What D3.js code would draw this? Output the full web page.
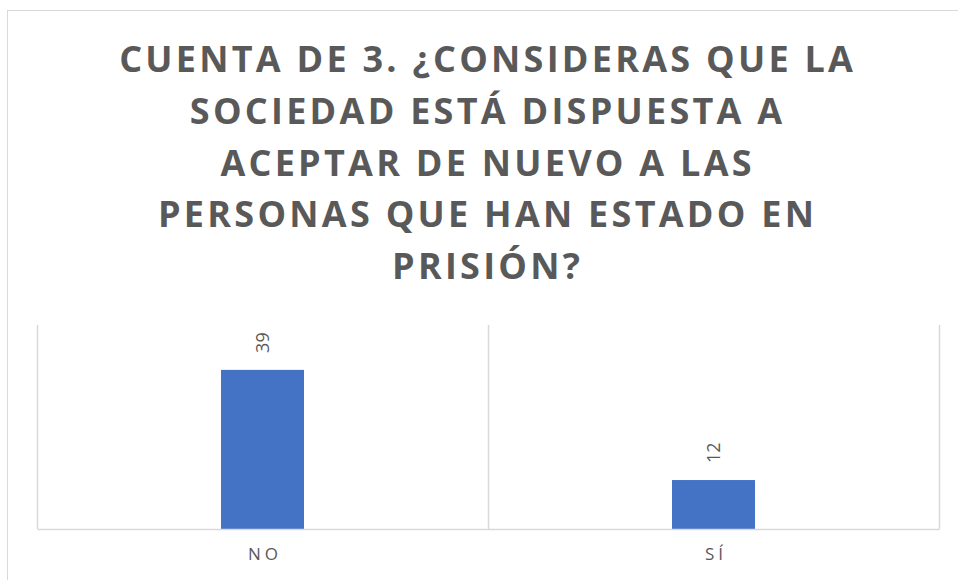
<!DOCTYPE html>
<html>
<head>
<meta charset="utf-8">
<script src="https://cdn.jsdelivr.net/npm/d3@7"></script>
<style>
  body { margin: 0; background: #fff; }
  #chart { width: 958px; height: 580px; }
</style>
</head>
<body>
<div id="chart"></div>
<script>
// Chart data
const categories = ["NO", "SÍ"];
const counts = [39, 12];
const titleLines = [
  "CUENTA DE 3. ¿CONSIDERAS QUE LA",
  "SOCIEDAD ESTÁ DISPUESTA A",
  "ACEPTAR DE NUEVO A LAS",
  "PERSONAS QUE HAN ESTADO EN",
  "PRISIÓN?"
];
const yDomain = [0, 50];

const W = 958, H = 580;
const svg = d3.select("#chart").append("svg")
  .attr("width", W)
  .attr("height", H);

// outer chart border (the right edge is cropped in the reference)
svg.append("rect")
  .attr("x", 7.5).attr("y", 10.5)
  .attr("width", 965).attr("height", 600)
  .attr("fill", "#fff")
  .attr("stroke", "#d9d9d9");

// Title
const titleX = 486;
const title = svg.append("g")
  .attr("font-family", "'Open Sans', sans-serif")
  .attr("font-weight", "bold")
  .attr("font-size", 36)
  .attr("fill", "#595959")
  .attr("text-anchor", "middle");

// measure the first line to pick letter spacing
const probe = title.append("text").text(titleLines[0]);
const raw = probe.node().getComputedTextLength();
probe.remove();
const spacing = (737 - raw) / titleLines[0].length;

title.selectAll("text")
  .data(titleLines)
  .enter()
  .append("text")
  .attr("x", titleX + spacing / 2)
  .attr("y", (d, i) => 72 + i * 51.8)
  .style("letter-spacing", spacing + "px")
  .text(d => d);

// Plot area
const plot = { left: 37, right: 939, top: 325, bottom: 529 };

const x = d3.scaleBand()
  .domain(categories)
  .range([plot.left, plot.right])
  .padding(0);

const y = d3.scaleLinear()
  .domain(yDomain)
  .range([plot.bottom, plot.top]);

const barW = x.bandwidth() * 0.184;

// category separator gridlines
const seps = [plot.left, ...categories.map(c => x(c) + x.bandwidth())];
svg.append("g")
  .selectAll("line")
  .data(seps)
  .enter()
  .append("line")
  .attr("x1", d => Math.round(d) + 0.5)
  .attr("x2", d => Math.round(d) + 0.5)
  .attr("y1", plot.top)
  .attr("y2", plot.bottom)
  .attr("stroke", "#d9d9d9")
  .attr("stroke-width", 1.5);

// bars
svg.append("g")
  .selectAll("rect")
  .data(categories)
  .enter()
  .append("rect")
  .attr("x", (d) => x(d) + (x.bandwidth() - barW) / 2)
  .attr("y", (d, i) => y(counts[i]))
  .attr("width", barW)
  .attr("height", (d, i) => y(0) - y(counts[i]))
  .attr("fill", "#4472c4");

// baseline / x axis
const xAxis = svg.append("g")
  .attr("transform", `translate(0,${plot.bottom})`)
  .call(d3.axisBottom(x).tickSize(0).tickPadding(19));
xAxis.select(".domain")
  .attr("stroke", "#d9d9d9")
  .attr("stroke-width", 1.5);
xAxis.selectAll("text")
  .attr("font-family", "'Open Sans', sans-serif")
  .attr("font-size", 17)
  .attr("fill", "#595959")
  .attr("dx", "0.15em")
  .style("letter-spacing", "4px");

// rotated value labels
svg.append("g")
  .selectAll("text")
  .data(categories)
  .enter()
  .append("text")
  .attr("transform", (d, i) =>
    `translate(${x(d) + x.bandwidth() / 2},${y(counts[i]) - 17}) rotate(-90)`)
  .attr("dy", "0.35em")
  .attr("text-anchor", "start")
  .attr("font-family", "'Open Sans', sans-serif")
  .attr("font-size", 18)
  .attr("fill", "#595959")
  .text((d, i) => counts[i]);
</script>
</body>
</html>
